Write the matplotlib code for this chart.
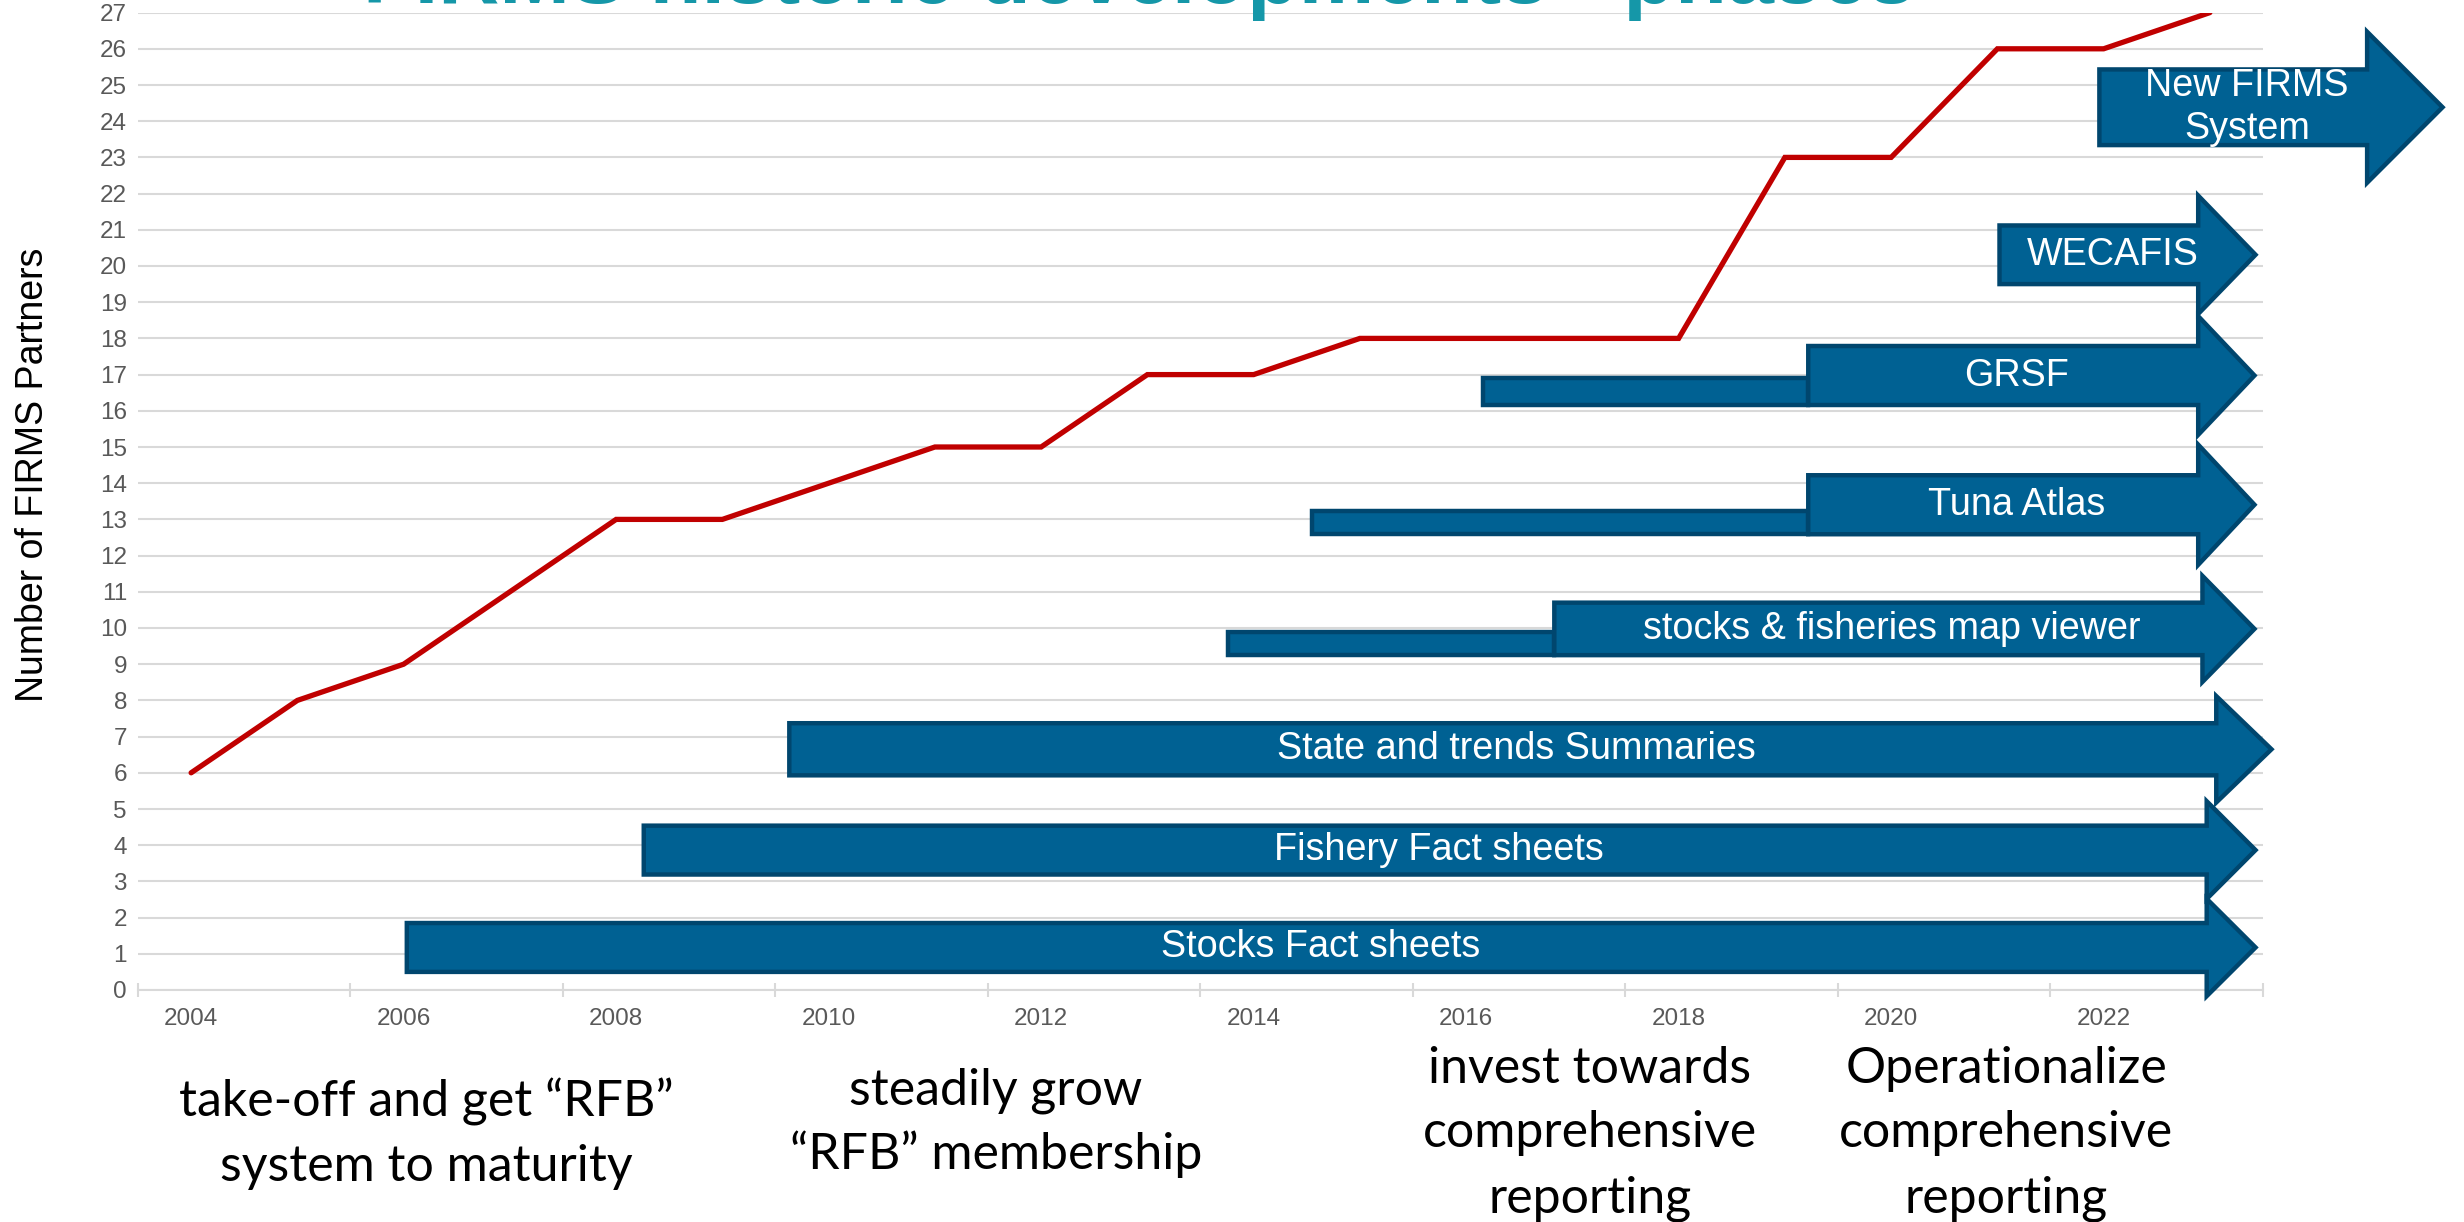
import matplotlib
matplotlib.use("Agg")
import matplotlib.pyplot as plt
from matplotlib.patches import Polygon, Rectangle

# ---------------- data ----------------
years = list(range(2004, 2024))
partners = [6, 8, 9, 11, 13, 13, 14, 15, 15, 17, 17, 18, 18, 18, 18, 23, 23, 26, 26, 27]

xtick_years = list(range(2004, 2023, 2))
xtick_labels = [str(y) for y in xtick_years]
ytick_values = list(range(0, 28))

phase_labels = ["Stocks Fact sheets", "Fishery Fact sheets", "State and trends Summaries",
                "stocks & fisheries map viewer", "Tuna Atlas", "GRSF", "WECAFIS",
                "New FIRMS\nSystem"]
phase_start = [2006.03, 2008.26, 2009.63, 2016.83, 2019.22, 2019.22, 2021.02, 2021.96]
phase_end = [2022.97, 2022.97, 2023.06, 2022.93, 2022.89, 2022.89, 2022.89, 2024.48]
pilot_start = [None, None, None, 2013.76, 2014.55, 2016.16, None, None]
phase_row = [1.175, 3.865, 6.65, 9.975, 13.405, 16.975, 20.31, 24.385]

phase_notes = ["take-off and get \u201cRFB\u201d\nsystem to maturity",
               "steadily grow\n\u201cRFB\u201d membership",
               "invest towards\ncomprehensive\nreporting",
               "Operationalize\ncomprehensive\nreporting"]

title_text = "FIRMS historic developments - phases"
ylabel_text = "Number of FIRMS Partners"

# ---------------- style ----------------
body_h = [1.35, 1.35, 1.44, 1.45, 1.63, 1.63, 1.62, 2.09]
head_h = [2.69, 2.70, 2.94, 2.93, 3.32, 3.28, 3.27, 4.17]
head_len = [0.46, 0.46, 0.52, 0.49, 0.53, 0.53, 0.54, 0.71]
pilot_h = [0, 0, 0, 0.64, 0.64, 0.75, 0, 0]

FILL = "#006193"
EDGE = "#00466E"
GRID = "#D9D9D9"
TICKC = "#595959"
LINE = "#C00000"
TEAL = "#1597A8"

W, H = 2464, 1222
fig = plt.figure(figsize=(W / 100, H / 100), dpi=100)
fig.patch.set_facecolor("white")

left, right, bottom, top = 138, 2263, 990, 12.6
ax = fig.add_axes([left / W, 1 - bottom / H, (right - left) / W, (bottom - top) / H])

ax.set_xlim(2003.5, 2023.5)
ax.set_ylim(0, 27)
ax.set_yticks(ytick_values)
ax.set_yticklabels([str(v) for v in ytick_values])
ax.set_xticks(xtick_years)
ax.set_xticklabels(xtick_labels)
ax.set_xticks([2003.5 + 2 * k for k in range(11)], minor=True)

ax.yaxis.grid(True, color=GRID, lw=1.5)
ax.set_axisbelow(True)
for s in ["left", "top", "right"]:
    ax.spines[s].set_visible(False)
ax.spines["bottom"].set_color(GRID)
ax.spines["bottom"].set_linewidth(1.5)

ax.tick_params(axis="y", length=0, pad=8, labelsize=17.5, labelcolor=TICKC)
ax.tick_params(axis="x", which="major", length=0, pad=13, labelsize=17.5, labelcolor=TICKC)
ax.tick_params(axis="x", which="minor", length=10, width=1.5, direction="inout", color=GRID)
for lab in ax.get_xticklabels() + ax.get_yticklabels():
    lab.set_fontfamily("Liberation Sans")

# red line
ax.plot(years, partners, color=LINE, lw=3.8, solid_capstyle="round",
        solid_joinstyle="miter", zorder=3)

# arrows
for i, lab in enumerate(phase_labels):
    yc = phase_row[i]
    yb, yt = yc - body_h[i] / 2, yc + body_h[i] / 2
    hb, ht = yc - head_h[i] / 2, yc + head_h[i] / 2
    x0, xb = phase_start[i], phase_end[i]
    tip = xb + head_len[i]
    if pilot_start[i] is not None:
        ax.add_patch(Rectangle((pilot_start[i], yb), x0 - pilot_start[i], pilot_h[i],
                               facecolor=FILL, edgecolor=EDGE, lw=3.2, zorder=4,
                               joinstyle="miter", clip_on=False))
    poly = [(x0, yb), (xb, yb), (xb, hb), (tip, yc), (xb, ht), (xb, yt), (x0, yt)]
    ax.add_patch(Polygon(poly, closed=True, facecolor=FILL, edgecolor=EDGE, lw=3.2,
                         joinstyle="miter", zorder=5, clip_on=False))
    ax.text((x0 + xb) / 2 + 0.13, yc, lab, color="white", fontsize=27.2,
            family="Liberation Sans", ha="center", va="center", linespacing=1.25,
            zorder=6, clip_on=False)

# y label
fig.text(33 / W, 1 - 475 / H, ylabel_text, rotation=90, fontsize=27,
         family="Liberation Sans", color="black", ha="center", va="center")

# title (mostly cut off at top)
fig.text(1139 / W, 1 - 3 / H, title_text, fontsize=61, fontweight="bold",
         family="Liberation Sans", color=TEAL, ha="center", va="baseline")

# phase notes (one text per line, placed at measured baselines)
note_x = [426, 996, 1590, 2006]
note_first_baseline = [1116, 1104, 1083, 1083]
note_step = 64.5
for txt, nx, ny in zip(phase_notes, note_x, note_first_baseline):
    for k, line in enumerate(txt.split("\n")):
        fig.text(nx / W, 1 - (ny + k * note_step) / H, line, fontsize=36,
                 family="Lato", color="black", ha="center", va="baseline")

fig.savefig("out.png", dpi=100)
